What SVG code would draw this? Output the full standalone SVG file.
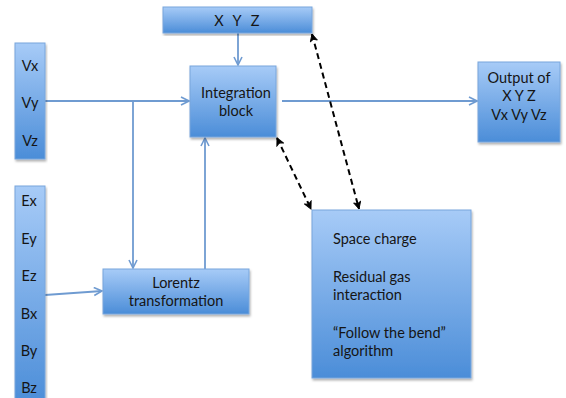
<svg xmlns="http://www.w3.org/2000/svg" width="566" height="398" viewBox="0 0 566 398">
<defs>
<linearGradient id="g" x1="0" y1="0" x2="0" y2="1">
<stop offset="0" stop-color="#a7cbf7"/>
<stop offset="1" stop-color="#4b8dd8"/>
</linearGradient>
<filter id="sh" x="-10%" y="-10%" width="120%" height="120%">
<feDropShadow dx="1" dy="2" stdDeviation="1" flood-color="#000" flood-opacity="0.3"/>
</filter>
<marker id="a" viewBox="0 0 10 10" refX="9" refY="5" markerWidth="10" markerHeight="10" markerUnits="userSpaceOnUse" orient="auto">
<path d="M1,1 L9,5 L1,9" fill="none" stroke="#6f9bd1" stroke-width="1.6"/>
</marker>
<marker id="d" viewBox="0 0 10 10" refX="9" refY="5" markerWidth="9" markerHeight="9" markerUnits="userSpaceOnUse" orient="auto-start-reverse">
<path d="M1,1 L9,5 L1,9 L3,5 Z" fill="#000" stroke="#000" stroke-width="1"/>
</marker>
</defs>
<style>
.b{fill:url(#g);stroke:#79a6dc;stroke-width:1;filter:url(#sh)}
.t{font-family:Lato,"Open Sans","Liberation Sans",sans-serif;font-size:14.5px;fill:#151515;text-anchor:middle}
.tl{font-family:Lato,"Open Sans","Liberation Sans",sans-serif;font-size:14.5px;fill:#151515}
.c{fill:none;stroke:#6f9bd1;stroke-width:1.8}
.dsh{fill:none;stroke:#000;stroke-width:2;stroke-dasharray:6,4}
</style>
<g id="connectors">
<line class="c" x1="45" y1="101" x2="189" y2="101" marker-end="url(#a)"/>
<line class="c" x1="133" y1="101" x2="133" y2="268" marker-end="url(#a)"/>
<line class="c" x1="205" y1="269" x2="205" y2="138" marker-end="url(#a)"/>
<line class="c" x1="238" y1="33" x2="238" y2="65" marker-end="url(#a)"/>
<line class="c" x1="282" y1="101" x2="477" y2="101" marker-end="url(#a)"/>
<line class="c" x1="45" y1="295" x2="102" y2="291" marker-end="url(#a)"/>
<line class="dsh" x1="277" y1="138" x2="311" y2="209" marker-start="url(#d)" marker-end="url(#d)"/>
<line class="dsh" x1="312" y1="34" x2="359" y2="209" marker-start="url(#d)" marker-end="url(#d)"/>
</g>
<g id="xyz">
<rect class="b" x="163" y="7" width="149" height="26"/>
<text class="t" x="219" y="26">X</text>
<text class="t" x="237" y="26">Y</text>
<text class="t" x="255" y="26">Z</text>
</g>
<g id="v">
<rect class="b" x="15" y="43" width="30" height="116"/>
<text class="t" x="30" y="71">Vx</text>
<text class="t" x="30" y="108">Vy</text>
<text class="t" x="30" y="146">Vz</text>
</g>
<g id="integration">
<rect class="b" x="190" y="66" width="86" height="71"/>
<text class="t" x="236" y="98">Integration</text>
<text class="t" x="236" y="116">block</text>
</g>
<g id="output">
<rect class="b" x="478" y="62" width="82" height="80"/>
<text class="t" x="519" y="83">Output of</text>
<text class="t" x="519" y="101">X Y Z</text>
<text class="t" x="519" y="120">Vx Vy Vz</text>
</g>
<g id="eb">
<rect class="b" x="15" y="186" width="30" height="220"/>
<text class="t" x="29" y="206">Ex</text>
<text class="t" x="29" y="244">Ey</text>
<text class="t" x="29" y="281">Ez</text>
<text class="t" x="29" y="319">Bx</text>
<text class="t" x="29" y="356">By</text>
<text class="t" x="29" y="393">Bz</text>
</g>
<g id="lorentz">
<rect class="b" x="103" y="269" width="146" height="45"/>
<text class="t" x="176" y="288">Lorentz</text>
<text class="t" x="176" y="306">transformation</text>
</g>
<g id="effects">
<rect class="b" x="312" y="210" width="159" height="168"/>
<text class="tl" x="333" y="244">Space charge</text>
<text class="tl" x="333" y="282">Residual gas</text>
<text class="tl" x="333" y="300">interaction</text>
<text class="tl" x="333" y="338">“Follow the bend”</text>
<text class="tl" x="333" y="356">algorithm</text>
</g>
</svg>
